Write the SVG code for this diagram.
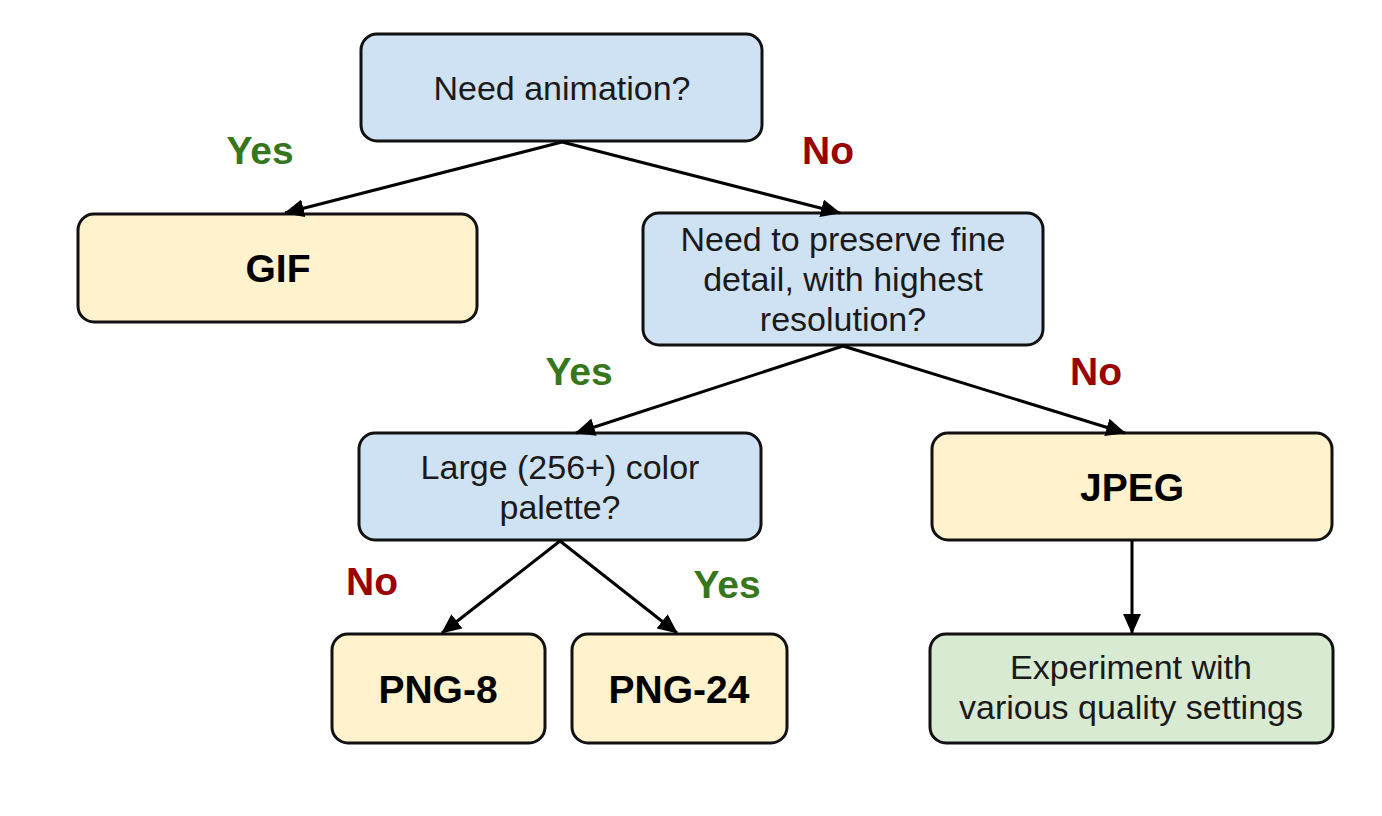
<svg xmlns="http://www.w3.org/2000/svg" width="1382" height="816" viewBox="0 0 1382 816">
<style>
.box{stroke:#111;stroke-width:3}
.q{fill:#cfe2f3}
.r{fill:#fff2cc}
.g{fill:#d9ead3}
.t{font-family:"Liberation Sans",Arial,sans-serif;font-size:34px;fill:#1a1a1a;text-anchor:middle}
.b{font-family:"Liberation Sans",Arial,sans-serif;font-size:39px;font-weight:bold;fill:#000;text-anchor:middle}
.yes{font-family:"Liberation Sans",Arial,sans-serif;font-size:39px;font-weight:bold;fill:#38761d;text-anchor:middle}
.no{font-family:"Liberation Sans",Arial,sans-serif;font-size:39px;font-weight:bold;fill:#990000;text-anchor:middle}
.c{stroke:#000;stroke-width:3;fill:none;marker-end:url(#ah)}
</style>
<defs>
<marker id="ah" viewBox="0 0 20 18" refX="19" refY="9" markerWidth="20" markerHeight="18" orient="auto" markerUnits="userSpaceOnUse">
<path d="M0,0 L20,9 L0,18 z" fill="#000"/>
</marker>
</defs>
<rect width="1382" height="816" fill="#fff"/>
<g id="labels">
<text class="yes" x="260" y="164">Yes</text>
<text class="no" x="828" y="164">No</text>
<text class="yes" x="579" y="385">Yes</text>
<text class="no" x="1096" y="385">No</text>
<text class="no" x="372" y="595">No</text>
<text class="yes" x="727" y="598">Yes</text>
</g>
<g id="n-animation">
<rect class="box q" x="361" y="34" width="401" height="107" rx="16"/>
<text class="t" x="562" y="100">Need animation?</text>
</g>
<g id="n-gif">
<rect class="box r" x="78" y="214" width="399" height="108" rx="16"/>
<text class="b" x="278" y="282">GIF</text>
</g>
<g id="n-detail">
<rect class="box q" x="643" y="213" width="400" height="132" rx="16"/>
<text class="t" x="843" y="251">Need to preserve fine</text>
<text class="t" x="843" y="291">detail, with highest</text>
<text class="t" x="843" y="331">resolution?</text>
</g>
<g id="n-palette">
<rect class="box q" x="359" y="433" width="402" height="107" rx="16"/>
<text class="t" x="560" y="479">Large (256+) color</text>
<text class="t" x="560" y="519">palette?</text>
</g>
<g id="n-jpeg">
<rect class="box r" x="932" y="433" width="400" height="107" rx="16"/>
<text class="b" x="1132" y="501">JPEG</text>
</g>
<g id="n-png8">
<rect class="box r" x="332" y="634" width="213" height="109" rx="16"/>
<text class="b" x="438" y="703">PNG-8</text>
</g>
<g id="n-png24">
<rect class="box r" x="572" y="634" width="215" height="109" rx="16"/>
<text class="b" x="679" y="703">PNG-24</text>
</g>
<g id="n-experiment">
<rect class="box g" x="930" y="634" width="403" height="109" rx="16"/>
<text class="t" x="1131" y="679">Experiment with</text>
<text class="t" x="1131" y="719">various quality settings</text>
</g>
<g id="connectors">
<line class="c" x1="562" y1="142" x2="285" y2="213"/>
<line class="c" x1="562" y1="142" x2="840" y2="213"/>
<line class="c" x1="843" y1="346" x2="576" y2="433"/>
<line class="c" x1="843" y1="346" x2="1125" y2="433"/>
<line class="c" x1="560" y1="541" x2="442" y2="633"/>
<line class="c" x1="560" y1="541" x2="677" y2="633"/>
<line class="c" x1="1132" y1="541" x2="1132" y2="633"/>
</g>
</svg>
